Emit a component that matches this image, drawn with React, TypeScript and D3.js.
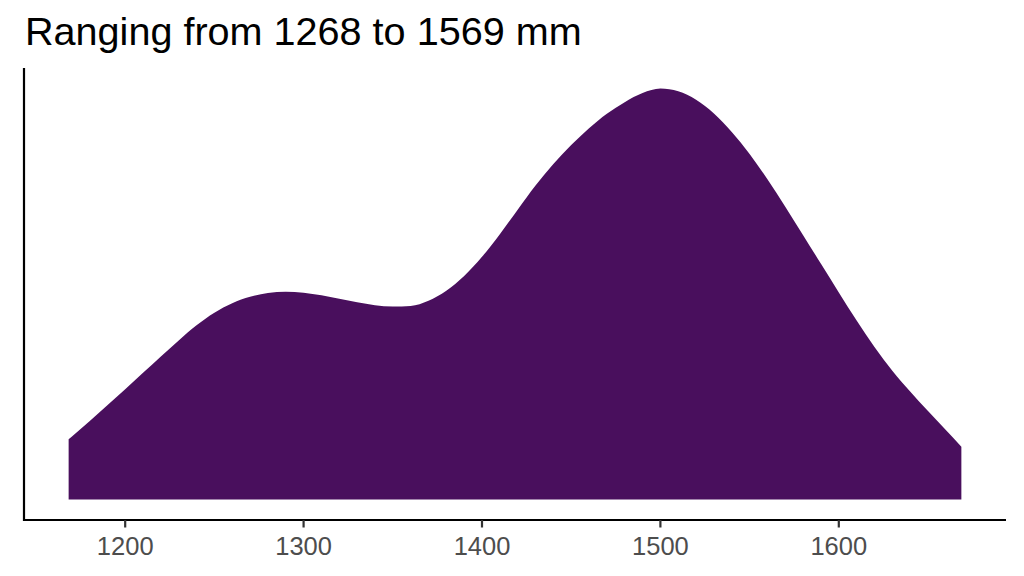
import React from 'react';
import * as d3 from 'd3';

// density estimate of the rainfall values (density x 1e-3)
const rainfallMm = [
  1168.3, 1170, 1180, 1190, 1200, 1210, 1220, 1230, 1240, 1250, 1260, 1270, 1280, 1290,
  1300, 1310, 1320, 1330, 1340, 1350, 1360, 1370, 1380, 1390, 1400, 1410, 1420, 1430,
  1440, 1450, 1460, 1470, 1480, 1490, 1500, 1510, 1520, 1530, 1540, 1550, 1560, 1570,
  1580, 1590, 1600, 1610, 1620, 1630, 1640, 1650, 1660, 1668.7,
];
const density = [
  0.469, 0.489, 0.609, 0.733, 0.859, 0.986, 1.113, 1.238, 1.356, 1.454, 1.528, 1.578, 1.608, 1.618,
  1.610, 1.590, 1.563, 1.535, 1.513, 1.503, 1.507, 1.547, 1.625, 1.740, 1.890, 2.066, 2.256, 2.444,
  2.612, 2.760, 2.891, 3.004, 3.094, 3.165, 3.200, 3.178, 3.112, 3.005, 2.862, 2.690, 2.493, 2.280,
  2.058, 1.835, 1.612, 1.393, 1.187, 1.003, 0.840, 0.688, 0.540, 0.411,
];
const xTicks = [1200, 1300, 1400, 1500, 1600];
const titleText = 'Ranging from 1268 to 1569 mm';

const W = 1024;
const H = 576;
const panel = { left: 24, right: 1006, top: 68, bottom: 520 };
const fillColor = '#490F5D';

export default function App() {
  const points = rainfallMm.map((x, i) => ({ x, y: density[i] }));

  const [xMin, xMax] = d3.extent(rainfallMm) as [number, number];
  const xPad = (xMax - xMin) * 0.05;
  const x = d3.scaleLinear()
    .domain([xMin - xPad, xMax + xPad])
    .range([panel.left, panel.right]);

  const yMax = d3.max(density) as number;
  const yPad = yMax * 0.05;
  const y = d3.scaleLinear()
    .domain([-yPad, yMax + yPad])
    .range([panel.bottom, panel.top]);

  const area = d3.area<{ x: number; y: number }>()
    .x(d => x(d.x))
    .y0(y(0))
    .y1(d => y(d.y))
    .curve(d3.curveMonotoneX);

  return (
    <svg
      width={W}
      height={H}
      style={{ position: 'absolute', left: 0, top: 0, background: '#fff' }}
      fontFamily="'Liberation Sans', Arial, sans-serif"
    >
      <text x={25} y={45} fontSize={39.6} fill="#000">{titleText}</text>

      <path d={area(points) || ''} fill={fillColor} />

      {/* axes */}
      <line x1={panel.left} x2={panel.left} y1={panel.top} y2={panel.bottom + 1} stroke="#000" strokeWidth={2.2} />
      <line x1={panel.left - 1} x2={panel.right} y1={panel.bottom} y2={panel.bottom} stroke="#000" strokeWidth={2.2} />

      {xTicks.map(t => (
        <g key={t} transform={`translate(${x(t)},${panel.bottom})`}>
          <line y1={0} y2={7.5} stroke="#333" strokeWidth={2.2} />
          <text y={35} textAnchor="middle" fontSize={25.5} fill="#4D4D4D">{t}</text>
        </g>
      ))}
    </svg>
  );
}
